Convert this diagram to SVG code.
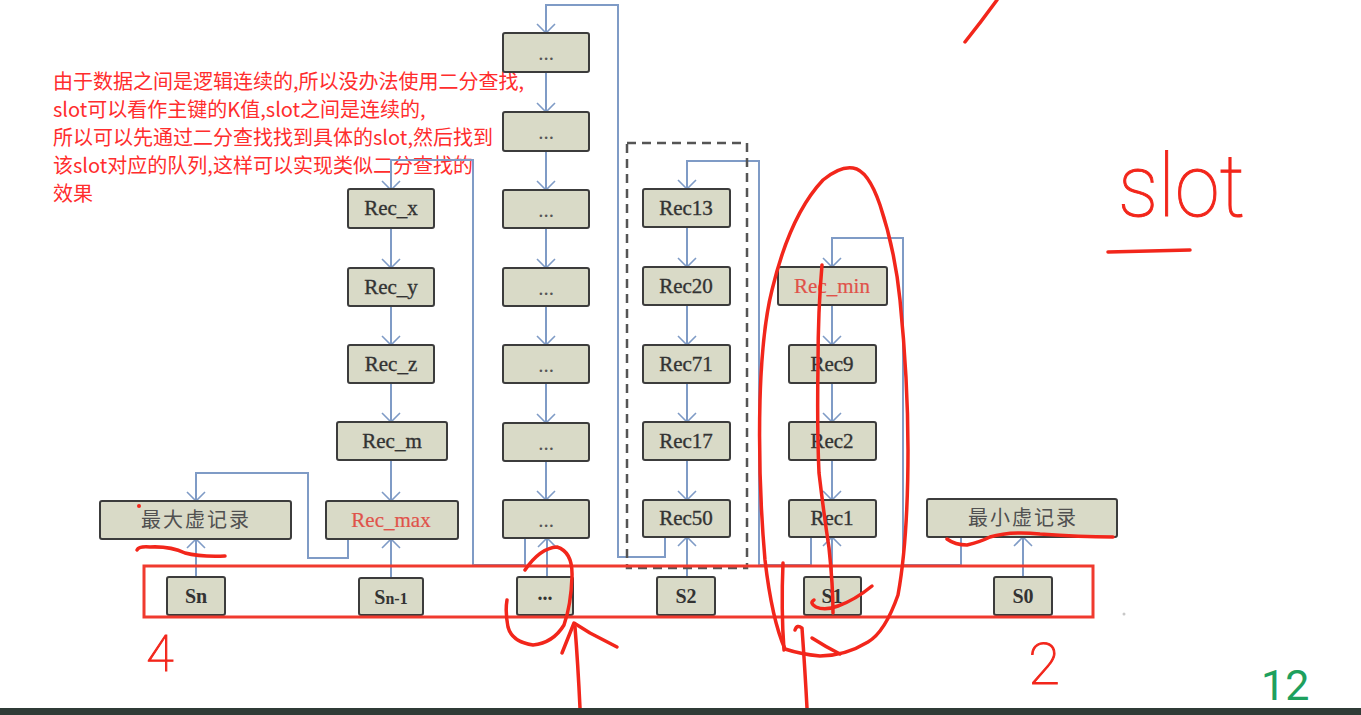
<svg xmlns="http://www.w3.org/2000/svg" width="1361" height="715" viewBox="0 0 1361 715">
<defs>
<marker id="arr" viewBox="0 0 10 20" refX="10" refY="10" markerWidth="10" markerHeight="20" markerUnits="userSpaceOnUse" orient="auto">
<path d="M1,1 L10,10 L1,19" fill="none" stroke="#7f9bc6" stroke-width="1.6"/>
</marker>
<style>
.box{fill:#d9dac7;stroke:#3c3c3c;stroke-width:2}
.rt{font-family:"Liberation Serif","Times New Roman",serif;font-size:21px;fill:#333;text-anchor:middle;stroke:#333;stroke-width:0.35}
.rr{fill:#e0524a;stroke:#e0524a;stroke-width:0.2}
.st{font-family:"Liberation Serif","Times New Roman",serif;font-size:20px;font-weight:bold;fill:#333;text-anchor:middle}
.cn{font-family:"Noto Sans CJK SC",sans-serif;font-size:20px;fill:#505050;text-anchor:middle;letter-spacing:2px}
.note{font-family:"Noto Sans CJK SC",sans-serif;font-size:20px;fill:#ff2d2d}
.c{fill:none;stroke:#7f9bc6;stroke-width:2}
.ca{fill:none;stroke:#7f9bc6;stroke-width:2;marker-end:url(#arr)}
.ann{fill:none;stroke:#f2261b;stroke-width:3.5;stroke-linecap:round;stroke-linejoin:round}
.hw{font-family:Roboto,"Liberation Sans",sans-serif;font-weight:100;fill:#f2261b;stroke:#f2261b;stroke-width:1}
</style>
</defs>
<rect width="1361" height="715" fill="#ffffff"/>

<g id="note">
<text class="note" x="53" y="88.5">由于数据之间是逻辑连续的,所以没办法使用二分查找,</text>
<text class="note" x="53" y="116.5">slot可以看作主键的K值,slot之间是连续的,</text>
<text class="note" x="53" y="144.5">所以可以先通过二分查找找到具体的slot,然后找到</text>
<text class="note" x="53" y="172.5">该slot对应的队列,这样可以实现类似二分查找的</text>
<text class="note" x="53" y="200.5">效果</text>
</g>

<g id="connectors">
<path class="ca" d="M391,228 V268"/>
<path class="ca" d="M391,306 V345"/>
<path class="ca" d="M391,383 V422"/>
<path class="ca" d="M391,460 V501"/>
<path class="ca" d="M391,578 V539"/>
<path class="ca" d="M196,577 V539"/>
<path class="ca" d="M348,539 V558 H308 V473 H196 V501"/>
<path class="ca" d="M525,538 V565 H473 V160 H391 V190"/>
<path class="ca" d="M665,537 V557 H618 V5 H546 V33"/>
<path class="ca" d="M546,72 V112"/>
<path class="ca" d="M546,151 V190"/>
<path class="ca" d="M546,228 V268"/>
<path class="ca" d="M546,306 V345"/>
<path class="ca" d="M546,383 V423"/>
<path class="ca" d="M546,461 V500"/>
<path class="ca" d="M547,577 V538"/>
<path class="ca" d="M687,227 V267"/>
<path class="ca" d="M687,305 V345"/>
<path class="ca" d="M687,383 V422"/>
<path class="ca" d="M687,460 V500"/>
<path class="ca" d="M687,577 V537"/>
<path class="ca" d="M811,537 V565 H759 V161 H687 V189"/>
<path class="ca" d="M832,305 V345"/>
<path class="ca" d="M832,383 V422"/>
<path class="ca" d="M832,460 V500"/>
<path class="ca" d="M832,577 V537"/>
<path class="ca" d="M961,537 V565 H903 V238 H832 V267"/>
<path class="ca" d="M1023,577 V537"/>
</g>

<rect id="group-s2" x="627" y="143" width="120" height="425" fill="none" stroke="#555" stroke-width="2.5" stroke-dasharray="9,6"/>

<g id="n-recx"><rect class="box" x="348" y="189" width="86" height="39" rx="2"/><text class="rt" x="391" y="215">Rec_x</text></g>
<g id="n-recy"><rect class="box" x="348" y="268" width="86" height="38" rx="2"/><text class="rt" x="391" y="294">Rec_y</text></g>
<g id="n-recz"><rect class="box" x="348" y="345" width="86" height="38" rx="2"/><text class="rt" x="391" y="371">Rec_z</text></g>
<g id="n-recm"><rect class="box" x="337" y="422" width="110" height="38" rx="2"/><text class="rt" x="392" y="448">Rec_m</text></g>
<g id="n-recmax"><rect class="box" x="326" y="501" width="132" height="38" rx="2"/><text class="rt rr" x="391" y="527">Rec_max</text></g>
<g id="n-maxvirt"><rect class="box" x="100" y="501" width="191" height="38" rx="2"/><text class="cn" x="196" y="527">最大虚记录</text></g>

<g id="n-d1"><rect class="box" x="503" y="33" width="86" height="39" rx="2"/><text class="rt" x="546" y="60" style="fill:#555;stroke:none">...</text></g>
<g id="n-d2"><rect class="box" x="503" y="112" width="86" height="39" rx="2"/><text class="rt" x="546" y="139" style="fill:#555;stroke:none">...</text></g>
<g id="n-d3"><rect class="box" x="503" y="190" width="86" height="38" rx="2"/><text class="rt" x="546" y="217" style="fill:#555;stroke:none">...</text></g>
<g id="n-d4"><rect class="box" x="503" y="268" width="86" height="38" rx="2"/><text class="rt" x="546" y="295" style="fill:#555;stroke:none">...</text></g>
<g id="n-d5"><rect class="box" x="503" y="345" width="86" height="38" rx="2"/><text class="rt" x="546" y="372" style="fill:#555;stroke:none">...</text></g>
<g id="n-d6"><rect class="box" x="503" y="423" width="86" height="38" rx="2"/><text class="rt" x="546" y="450" style="fill:#555;stroke:none">...</text></g>
<g id="n-d7"><rect class="box" x="503" y="500" width="86" height="38" rx="2"/><text class="rt" x="546" y="527" style="fill:#555;stroke:none">...</text></g>

<g id="n-rec13"><rect class="box" x="643" y="189" width="87" height="38" rx="2"/><text class="rt" x="686" y="215">Rec13</text></g>
<g id="n-rec20"><rect class="box" x="643" y="267" width="87" height="38" rx="2"/><text class="rt" x="686" y="293">Rec20</text></g>
<g id="n-rec71"><rect class="box" x="643" y="345" width="87" height="38" rx="2"/><text class="rt" x="686" y="371">Rec71</text></g>
<g id="n-rec17"><rect class="box" x="643" y="422" width="87" height="38" rx="2"/><text class="rt" x="686" y="448">Rec17</text></g>
<g id="n-rec50"><rect class="box" x="643" y="500" width="87" height="37" rx="2"/><text class="rt" x="686" y="525">Rec50</text></g>

<g id="n-recmin"><rect class="box" x="778" y="267" width="109" height="38" rx="2"/><text class="rt rr" x="832" y="293">Rec_min</text></g>
<g id="n-rec9"><rect class="box" x="789" y="345" width="87" height="38" rx="2"/><text class="rt" x="832" y="371">Rec9</text></g>
<g id="n-rec2"><rect class="box" x="789" y="422" width="87" height="38" rx="2"/><text class="rt" x="832" y="448">Rec2</text></g>
<g id="n-rec1"><rect class="box" x="789" y="500" width="87" height="37" rx="2"/><text class="rt" x="832" y="525">Rec1</text></g>
<g id="n-minvirt"><rect class="box" x="927" y="499" width="190" height="38" rx="2"/><text class="cn" x="1023" y="525">最小虚记录</text></g>

<g id="n-sn"><rect class="box" x="167" y="577" width="58" height="38" rx="2"/><text class="st" x="196" y="603">Sn</text></g>
<g id="n-sn1"><rect class="box" x="359" y="578" width="64" height="37" rx="2"/><text class="st" x="391" y="604">S<tspan font-size="16">n-1</tspan></text></g>
<g id="n-sdots"><rect class="box" x="517" y="577" width="56" height="38" rx="2"/><text class="st" x="545" y="600">...</text></g>
<g id="n-s2"><rect class="box" x="657" y="577" width="58" height="38" rx="2"/><text class="st" x="686" y="603">S2</text></g>
<g id="n-s1"><rect class="box" x="804" y="577" width="57" height="38" rx="2"/><text class="st" x="832" y="603">S1</text></g>
<g id="n-s0"><rect class="box" x="994" y="577" width="58" height="38" rx="2"/><text class="st" x="1023" y="603">S0</text></g>

<g id="annotations">
<rect x="144" y="566" width="949" height="51" fill="none" stroke="#f03a2e" stroke-width="3"/>
<circle cx="139" cy="506" r="2" fill="#f2261b"/>
<path class="ann" d="M137,550 Q139,546 150,547 Q170,546 185,553 Q200,557 225,556"/>
<path class="ann" d="M947,539 Q955,545 967,545 Q980,542 990,537 Q1010,531 1040,534 Q1080,537 1113,537"/>
<path class="ann" d="M525,570 Q540,548 557,547 Q573,552 572,577 Q571,605 564,625 Q553,643 533,645 Q512,642 508,627 Q505,612 507,600"/>
<path class="ann" d="M580,708 Q578,665 575,627"/>
<path class="ann" d="M562,653 L574,623 L590,633 L617,647"/>
<path class="ann" d="M785,649 Q772,620 765,560 Q758,480 760,400 Q762,330 772,290 Q790,215 823,180 Q840,166 853,168 Q868,170 880,205 Q895,250 900,300 Q908,380 908,450 Q908,540 898,595 Q885,632 868,642 Q845,656 820,656 Q800,654 785,649"/>
<path class="ann" d="M783,563 Q781,610 784,650"/>
<path class="ann" d="M822,265 Q818,310 818,365 Q817,430 819,473 Q824,515 829,548 Q833,585 833,613"/>
<path class="ann" d="M872,586 Q855,600 838,606 Q825,611 816,607 Q809,603 814,600"/>
<path class="ann" d="M807,708 Q805,670 802,628 Q797,624 795,630"/>
<path class="ann" d="M812,638 Q826,647 840,654"/>
<path class="ann" d="M965,42 Q981,22 997,0"/>
<path class="ann" d="M1108,252 L1190,250"/>
<text class="hw" x="1118" y="216" font-size="88" textLength="127" lengthAdjust="spacingAndGlyphs">slot</text>
<text class="hw" x="160" y="671" font-size="50" text-anchor="middle">4</text>
<text class="hw" x="1044" y="684" font-size="58" text-anchor="middle">2</text>
<circle cx="1124" cy="614" r="1.5" fill="#c8c8c8"/>
</g>

<text x="1261" y="700" font-family="Roboto,'Liberation Sans',sans-serif" font-size="43" fill="#1ea05e">12</text>
<rect x="0" y="708" width="1361" height="7" fill="#2f3b36"/>
</svg>
